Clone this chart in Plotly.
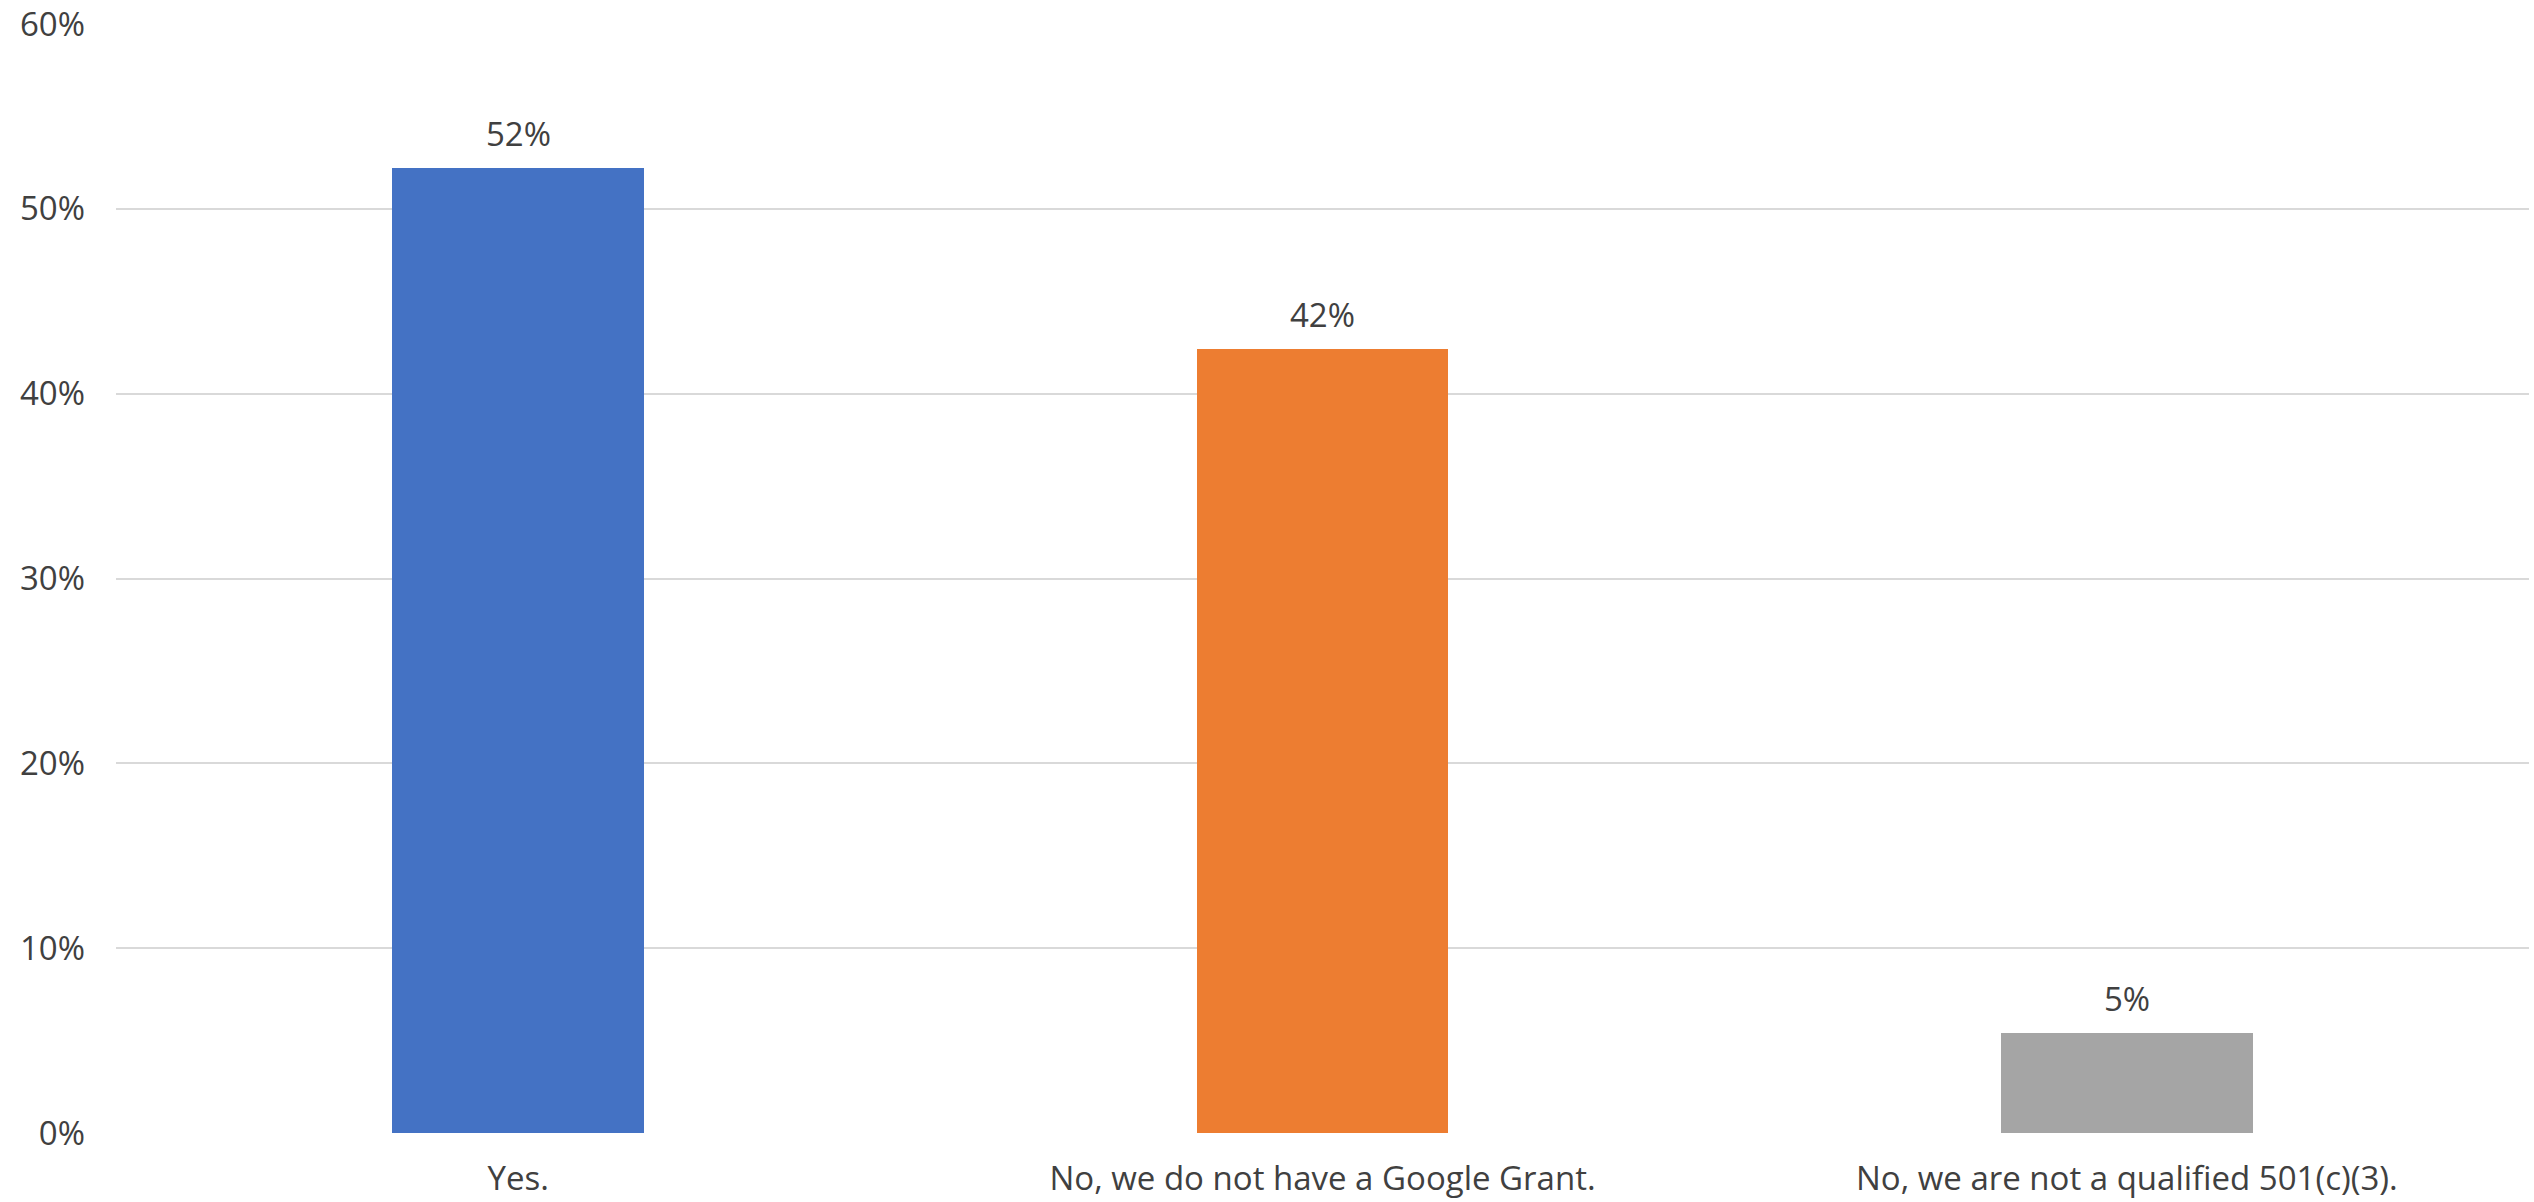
import plotly.graph_objects as go

# Survey responses: share of respondents per answer
categories = ["Yes.", "No, we do not have a Google Grant.", "No, we are not a qualified 501(c)(3)."]
shares = [0.522, 0.424, 0.054]
bar_colors = ["#4472C4", "#ED7D31", "#A5A5A5"]
y_ticks = [0, 0.1, 0.2, 0.3, 0.4, 0.5, 0.6]
y_tick_labels = ["0%", "10%", "20%", "30%", "40%", "50%", "60%"]

FONT = "Segoe UI, Open Sans, Noto Sans, sans-serif"
TEXT = "#404040"
SIZE = 33

fig = go.Figure(
    go.Bar(
        x=categories,
        y=shares,
        marker=dict(color=bar_colors, line=dict(width=0)),
        width=0.313,
        hoverinfo="skip",
    )
)

# value labels above each bar, formatted from the bar's own value
for cat, val in zip(categories, shares):
    fig.add_annotation(
        x=cat, y=val, text=f"{val:.0%}", showarrow=False,
        yanchor="bottom", yshift=10,
        font=dict(family=FONT, size=SIZE, color=TEXT),
    )

fig.update_layout(
    width=2534, height=1202,
    margin=dict(l=116, r=5, t=24, b=69),
    paper_bgcolor="white", plot_bgcolor="white",
    showlegend=False,
    font=dict(family=FONT, size=SIZE, color=TEXT),
    bargap=0,
)
fig.update_xaxes(
    automargin=False,
    showline=False, ticks="", ticklabelstandoff=23,
    tickfont=dict(family=FONT, size=SIZE, color=TEXT),
)
fig.update_yaxes(
    automargin=False,
    range=[0, 0.6], tickvals=y_ticks, ticktext=y_tick_labels,
    showgrid=True, gridcolor="#D9D9D9", gridwidth=2,
    zeroline=False, showline=False, ticks="",
    ticklabelstandoff=30,
    tickfont=dict(family=FONT, size=SIZE, color=TEXT),
)

fig.write_html("out.html")
